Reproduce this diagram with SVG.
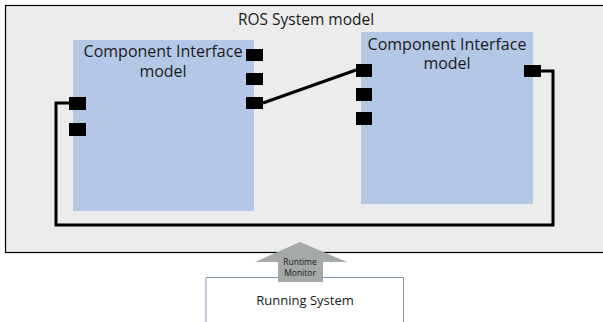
<svg xmlns="http://www.w3.org/2000/svg" width="603" height="322" viewBox="0 0 603 322">
<style>
.t{font-family:"Open Sans","Noto Sans",sans-serif;fill:#1a1a1a;text-anchor:middle}
.c{font-size:16px}
.comp{fill:#b4c7e7}
.port{fill:#000}
.wire{fill:none;stroke:#000;stroke-width:3}
</style>
<rect width="603" height="322" fill="#fff"/>
<g id="ros-system">
<rect x="5.5" y="5.5" width="600" height="247" fill="#ececec" stroke="#000" stroke-width="1.2"/>
<text class="t" x="306" y="25" font-size="15.5">ROS System model</text>
</g>
<g id="connectors">
<polyline class="wire" points="263,103 356,70"/>
<polyline class="wire" points="69,103 56,103 56,225 553,225 553,71 540,71"/>
</g>
<g id="component-left">
<rect class="comp" x="73" y="40" width="181" height="171"/>
<text class="t c" x="163" y="57">Component Interface</text>
<text class="t c" x="163" y="76.5">model</text>
<rect class="port" x="246" y="49" width="17" height="12"/>
<rect class="port" x="246" y="73" width="17" height="12"/>
<rect class="port" x="246" y="97" width="17" height="12"/>
<rect class="port" x="69" y="97" width="17" height="13"/>
<rect class="port" x="69" y="123" width="17" height="13"/>
</g>
<g id="component-right">
<rect class="comp" x="361" y="32" width="172" height="172"/>
<text class="t c" x="447" y="50">Component Interface</text>
<text class="t c" x="447" y="69">model</text>
<rect class="port" x="356" y="64" width="16" height="13"/>
<rect class="port" x="356" y="88" width="16" height="13"/>
<rect class="port" x="356" y="112" width="16" height="13"/>
<rect class="port" x="524" y="65" width="17" height="12"/>
</g>
<g id="running-system">
<path d="M206,322 V277.5 H403.5 V322" fill="#fff" stroke="#8497b0" stroke-width="1"/>
<text class="t" x="305" y="305" font-size="13">Running System</text>
</g>
<g id="runtime-monitor">
<polygon points="300,242 347,262 323,262 323,282 278,282 278,262 255,262" fill="#a5a9a8"/>
<text class="t" x="300" y="265" font-size="8.5">Runtime</text>
<text class="t" x="300" y="276" font-size="8.5">Monitor</text>
</g>
</svg>
